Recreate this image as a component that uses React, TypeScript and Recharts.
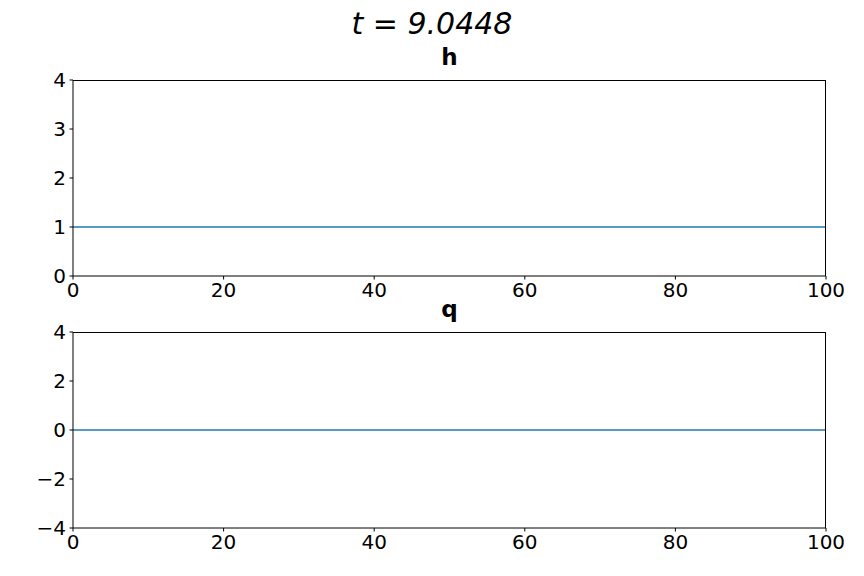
import React from 'react';
import { LineChart, Line, XAxis, YAxis } from 'recharts';

// sample positions along the domain and the solution at t = 9.0448
const xs = [0, 10, 20, 30, 40, 50, 60, 70, 80, 90, 100];
const hValues = [1, 1, 1, 1, 1, 1, 1, 1, 1, 1, 1];
const qValues = [0, 0, 0, 0, 0, 0, 0, 0, 0, 0, 0];

const xTicks = [0, 20, 40, 60, 80, 100];
const hTicks = [0, 1, 2, 3, 4];
const qTicks = [-4, -2, 0, 2, 4];

const hData = xs.map((x, i) => ({ x, v: hValues[i] }));
const qData = xs.map((x, i) => ({ x, v: qValues[i] }));

const FONT = 'DejaVu Sans, sans-serif';
const tickStyle = { fontSize: 20, fill: '#000', fontFamily: FONT };
const minus = (v: number) => (v < 0 ? '\u2212' + Math.abs(v) : String(v));

interface PanelProps {
  data: { x: number; v: number }[];
  yDomain: [number, number];
  yTicks: number[];
  height: number;
  marginTop: number;
}

const Panel: React.FC<PanelProps> = ({ data, yDomain, yTicks, height, marginTop }) => (
  <div style={{ position: 'relative', width: 864, height }}>
    <LineChart
      width={864}
      height={height}
      data={data}
      margin={{ top: marginTop, right: 38, left: 0, bottom: 0 }}
      style={{ fontSize: 20, fontFamily: FONT }}
    >
      <XAxis
        dataKey="x"
        type="number"
        domain={[0, 100]}
        ticks={xTicks}
        height={30}
        tickSize={3.5}
        tickMargin={3}
        stroke="#000"
        fontSize={20}
        tick={tickStyle}
        interval={0}
      />
      <YAxis
        type="number"
        domain={yDomain}
        ticks={yTicks}
        width={73}
        tickSize={3.5}
        tickMargin={3.5}
        stroke="#000"
        fontSize={20}
        tick={tickStyle}
        tickFormatter={minus}
        interval={0}
      />
      <Line dataKey="v" stroke="#1f77b4" strokeWidth={1.6} dot={false} isAnimationActive={false} />
    </LineChart>
    {/* frame: top and right spines */}
    <div
      style={{
        position: 'absolute',
        left: 73,
        top: marginTop,
        width: 753,
        height: height - marginTop - 30,
        borderTop: '1px solid #000',
        borderRight: '1px solid #000',
        boxSizing: 'border-box',
        pointerEvents: 'none',
      }}
    />
  </div>
);

export default function App() {
  return (
    <div style={{ position: 'absolute', left: 0, top: 0, width: 864, height: 576, background: '#fff', fontFamily: FONT }}>
      <div style={{ position: 'absolute', left: 0, top: 0 }}>
        <Panel data={hData} yDomain={[0, 4]} yTicks={hTicks} height={306} marginTop={80} />
      </div>
      <div style={{ position: 'absolute', left: 0, top: 306 }}>
        <Panel data={qData} yDomain={[-4, 4]} yTicks={qTicks} height={252} marginTop={26} />
      </div>
      <div style={{ position: 'absolute', left: 0, width: 864, top: 6, textAlign: 'center', fontSize: 30, fontStyle: 'italic', lineHeight: '36px' }}>
        t = 9.0448
      </div>
      <div style={{ position: 'absolute', left: 73, width: 753, top: 43, textAlign: 'center', fontSize: 23, fontWeight: 'bold', lineHeight: '28px' }}>
        h
      </div>
      <div style={{ position: 'absolute', left: 73, width: 753, top: 295, textAlign: 'center', fontSize: 23, fontWeight: 'bold', lineHeight: '28px' }}>
        q
      </div>
    </div>
  );
}
